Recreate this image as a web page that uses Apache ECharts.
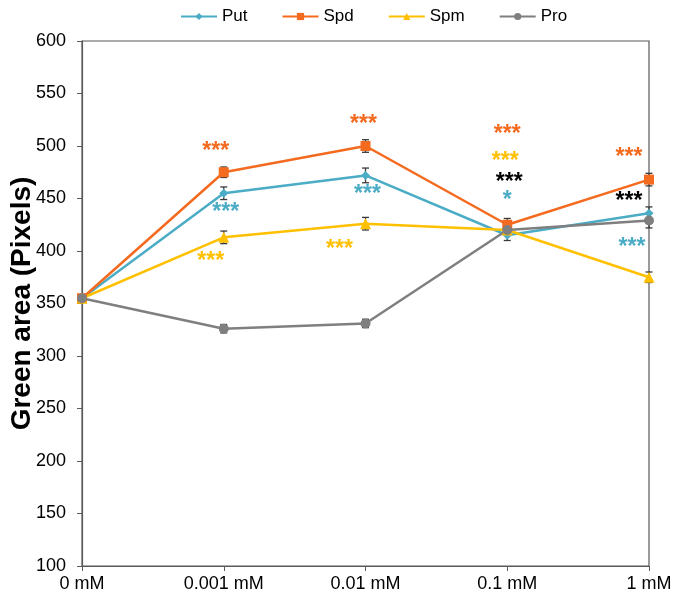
<!DOCTYPE html>
<html><head><meta charset="utf-8">
<script src="https://cdn.jsdelivr.net/npm/echarts@6/dist/echarts.min.js"></script>
<style>html,body{margin:0;padding:0;background:#fff}#c{width:675px;height:599px}</style>
</head><body><div id="c"></div>
<script>
var categories = ['0 mM', '0.001 mM', '0.01 mM', '0.1 mM', '1 mM'];
var putVals = [355, 455, 472, 415, 436];
var spdVals = [355, 475, 500, 425, 468];
var spmVals = [355, 413, 426, 420, 375];
var proVals = [355, 326, 331, 420, 429];
var putErr = [3, 6, 7, 5, 6];
var spdErr = [3, 5, 6, 6, 6];
var spmErr = [3, 6, 6, 5, 5];
var proErr = [3, 4, 4, 5, 7];
var yTicks = [100, 150, 200, 250, 300, 350, 400, 450, 500, 550, 600];
// significance annotations: category index, value, text, series
var annotCat = [1, 1, 1, 2, 2, 2, 3, 3, 3, 3, 4, 4, 4];
var annotVal = [499, 441, 395, 525, 458, 406, 516, 490, 470, 453, 494, 452, 408];
var annotText = ['***', '***', '***', '***', '***', '***', '***', '***', '***', '*', '***', '***', '***'];
var annotSeries = ['Spd', 'Put', 'Spm', 'Spd', 'Put', 'Spm', 'Spd', 'Spm', 'Pro', 'Put', 'Spd', 'Pro', 'Put'];

// styles
var annotDx = [-8, 2, -13, -2, 2, -26, 0, -2, 2, 0, -20, -20, -17];
var colors = {Put: '#4BACC6', Spd: '#F46A1F', Spm: '#FFC000', Pro: '#7F7F7F'};
var annotColors = {Put: '#4BACC6', Spd: '#F46A1F', Spm: '#FFC000', Pro: '#000000'};
var FONT = '"Liberation Sans", Arial, sans-serif';

var chart = echarts.init(document.getElementById('c'));

function lineSeries(name, vals, symbol, size) {
  return {
    name: name, type: 'line', data: vals, symbol: symbol, symbolSize: size,
    itemStyle: {color: colors[name]},
    lineStyle: {color: colors[name], width: 2.5},
    z: 3
  };
}
function errSeries(vals, errs) {
  var d = vals.map(function (v, i) { return [i, v - errs[i], v + errs[i]]; });
  return {
    type: 'custom', z: 2, silent: true,
    data: d,
    renderItem: function (params, api) {
      var x = api.value(0);
      var lo = api.coord([x, api.value(1)]);
      var hi = api.coord([x, api.value(2)]);
      var w = 3.5;
      var st = {stroke: '#3a3a3a', lineWidth: 1.3};
      return {type: 'group', children: [
        {type: 'line', shape: {x1: lo[0], y1: lo[1], x2: hi[0], y2: hi[1]}, style: st},
        {type: 'line', shape: {x1: lo[0] - w, y1: lo[1], x2: lo[0] + w, y2: lo[1]}, style: st},
        {type: 'line', shape: {x1: hi[0] - w, y1: hi[1], x2: hi[0] + w, y2: hi[1]}, style: st}
      ]};
    }
  };
}
var annotData = annotCat.map(function (c, i) {
  return {
    value: [c, annotVal[i]],
    label: {
      show: true, position: 'inside', formatter: annotText[i],
      color: annotColors[annotSeries[i]], offset: [annotDx[i], 5],
      fontSize: 23, fontWeight: 'bold', fontFamily: FONT, opacity: 1,
      textBorderWidth: 0, textBorderColor: 'transparent'
    }
  };
});

var option = {
  animation: false,
  backgroundColor: '#fff',
  grid: {left: 82, right: 26, top: 41, bottom: 33, outerBoundsMode: 'none', containLabel: false,
    show: true, borderColor: '#595959', borderWidth: 1.2, backgroundColor: 'transparent'},
  legend: {
    top: 3, left: 175, itemWidth: 36, itemHeight: 9, itemGap: 34,
    textStyle: {fontSize: 17, fontFamily: FONT, color: '#000'},
    data: ['Put', 'Spd', 'Spm', 'Pro']
  },
  xAxis: {
    type: 'category', data: categories, boundaryGap: false,
    axisLine: {lineStyle: {color: '#595959', width: 1.2}},
    axisTick: {show: true, length: 5, lineStyle: {color: '#595959'}},
    axisLabel: {fontSize: 18, fontFamily: FONT, color: '#000', margin: 9, interval: 0},
    splitLine: {show: false}
  },
  yAxis: {
    type: 'value', min: 100, max: 600, interval: 50,
    name: 'Green area (Pixels)', nameLocation: 'middle', nameGap: 46, nameMoveOverlap: false,
    nameTextStyle: {fontSize: 28, fontWeight: 'bold', fontFamily: FONT, color: '#000'},
    axisLine: {show: true, lineStyle: {color: '#595959', width: 1.2}},
    axisTick: {show: true, length: 5, lineStyle: {color: '#595959'}},
    axisLabel: {fontSize: 18, fontFamily: FONT, color: '#000', margin: 16,
      formatter: function (v) { return yTicks.indexOf(v) >= 0 ? String(v) : ''; }},
    splitLine: {show: false}
  },
  series: [
    errSeries(putVals, putErr),
    errSeries(spdVals, spdErr),
    errSeries(spmVals, spmErr),
    errSeries(proVals, proErr),
    lineSeries('Put', putVals, 'diamond', 9),
    lineSeries('Spd', spdVals, 'rect', 10),
    lineSeries('Spm', spmVals, 'triangle', 11),
    lineSeries('Pro', proVals, 'circle', 10),
    {type: 'scatter', symbol: 'circle', symbolSize: 1, itemStyle: {color: 'rgba(0,0,0,0)'},
     data: annotData, z: 5, silent: true}
  ]
};
chart.setOption(option);
</script>
</body></html>
